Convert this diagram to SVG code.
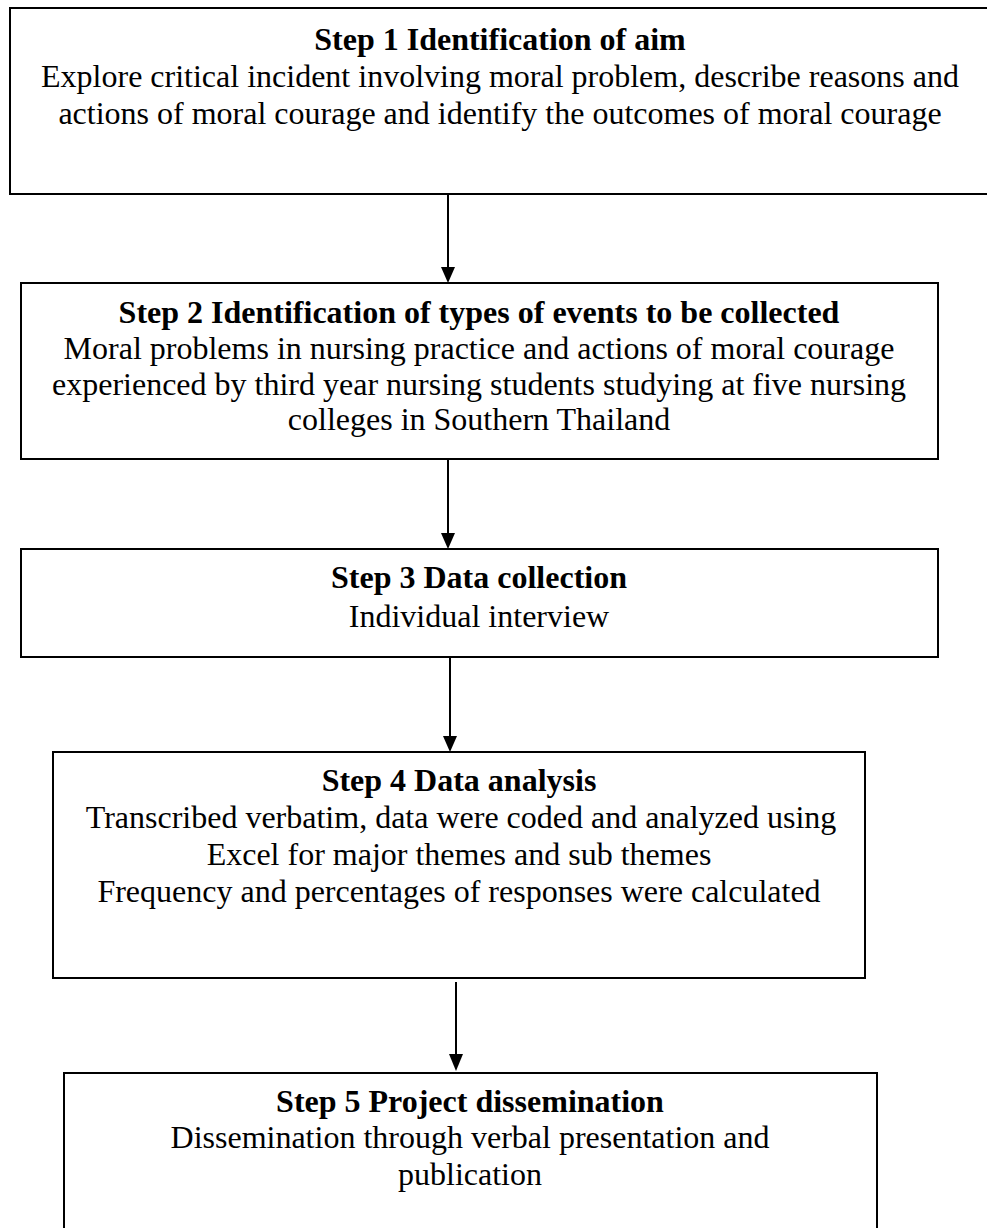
<svg xmlns="http://www.w3.org/2000/svg" width="987" height="1228" viewBox="0 0 987 1228">
<style>
.box{fill:#fff;stroke:#000;stroke-width:2}
.t{font-family:"Liberation Serif","Times New Roman",serif;font-size:32px;fill:#000;text-anchor:middle}
.b{font-weight:bold}
.c{stroke:#000;stroke-width:2;fill:none}
</style>
<defs>
<marker id="ah" markerWidth="14" markerHeight="16" refX="7" refY="15" orient="auto-start-reverse" markerUnits="userSpaceOnUse" viewBox="0 0 14 16">
<path d="M0,0 L14,0 L7,16 Z" fill="#000" transform="rotate(0)"/>
</marker>
</defs>
<rect width="987" height="1228" fill="#fff"/>
<g id="connectors">
<line class="c" x1="448" y1="194" x2="448" y2="268"/><path d="M441,267 L455,267 L448,283 Z" fill="#000"/>
<line class="c" x1="448" y1="459" x2="448" y2="534"/><path d="M441,533 L455,533 L448,549 Z" fill="#000"/>
<line class="c" x1="450" y1="657" x2="450" y2="737"/><path d="M443,736 L457,736 L450,752 Z" fill="#000"/>
<line class="c" x1="456" y1="982" x2="456" y2="1055"/><path d="M449,1054 L463,1054 L456,1071 Z" fill="#000"/>
</g>
<g id="step1">
<rect class="box" x="10" y="8" width="982" height="186"/>
<text class="t b" x="500" y="50">Step 1 Identification of aim</text>
<text class="t" x="500" y="87">Explore critical incident involving moral problem, describe reasons and</text>
<text class="t" x="500" y="124">actions of moral courage and identify the outcomes of moral courage</text>
</g>
<g id="step2">
<rect class="box" x="21" y="283" width="917" height="176"/>
<text class="t b" x="479" y="323">Step 2 Identification of types of events to be collected</text>
<text class="t" x="479" y="359">Moral problems in nursing practice and actions of moral courage</text>
<text class="t" x="479" y="395">experienced by third year nursing students studying at five nursing</text>
<text class="t" x="479" y="430">colleges in Southern Thailand</text>
</g>
<g id="step3">
<rect class="box" x="21" y="549" width="917" height="108"/>
<text class="t b" x="479" y="588">Step 3 Data collection</text>
<text class="t" x="479" y="627">Individual interview</text>
</g>
<g id="step4">
<rect class="box" x="53" y="752" width="812" height="226"/>
<text class="t b" x="459" y="791">Step 4 Data analysis</text>
<text class="t" x="461" y="828">Transcribed verbatim, data were coded and analyzed using</text>
<text class="t" x="459" y="865">Excel for major themes and sub themes</text>
<text class="t" x="459" y="902">Frequency and percentages of responses were calculated</text>
</g>
<g id="step5">
<rect class="box" x="64" y="1073" width="813" height="180"/>
<text class="t b" x="470" y="1112">Step 5 Project dissemination</text>
<text class="t" x="470" y="1148">Dissemination through verbal presentation and</text>
<text class="t" x="470" y="1185">publication</text>
</g>
</svg>
